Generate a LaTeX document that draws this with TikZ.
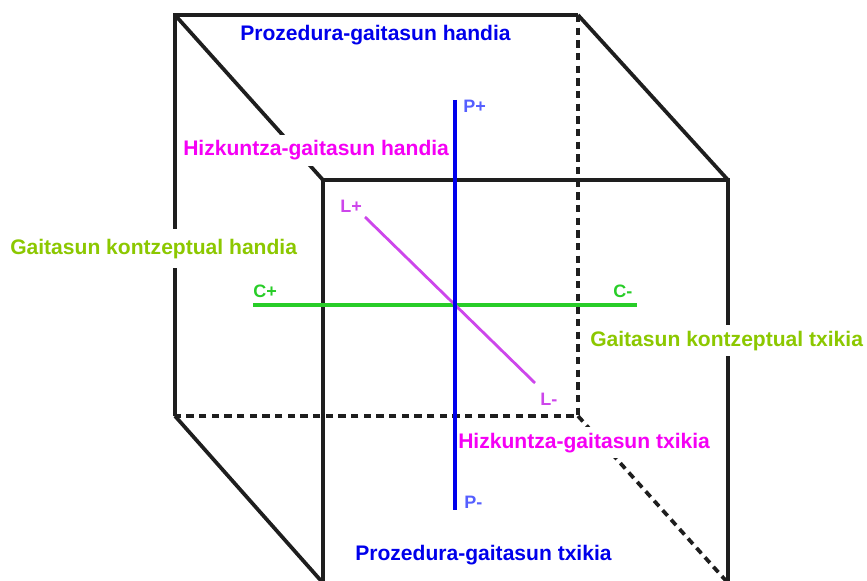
\documentclass[tikz,border=0pt]{standalone}
\usepackage{fontspec}
\setmainfont{Liberation Sans}
\usepackage{xcolor}

\definecolor{procblue}{RGB}{0,0,235}
\definecolor{langmag}{RGB}{245,0,245}
\definecolor{concgreen}{RGB}{140,200,0}
\definecolor{axisgreen}{RGB}{40,205,40}
\definecolor{tagblue}{RGB}{85,95,255}
\definecolor{tagmag}{RGB}{205,70,235}
\definecolor{edgegray}{RGB}{30,30,30}

\begin{document}
\begin{tikzpicture}[x=0.75pt,y=-0.75pt,
  cubeline/.style={draw=edgegray,line width=2.8pt},
  hidden/.style={cubeline,dash pattern=on 5.5pt off 4pt},
  title/.style={font=\fontsize{15.8}{18}\selectfont\bfseries,fill=white,inner xsep=1.5pt,inner ysep=4pt,anchor=base west},
  tag/.style={font=\fontsize{13.5}{15}\selectfont\bfseries,inner sep=0pt,anchor=base west}]
\useasboundingbox (0,0) rectangle (867,581);
% back face
\coordinate (b1) at (175,15);
\coordinate (b2) at (578,15);
\coordinate (b3) at (578,416);
\coordinate (b4) at (175,416);
% front face
\coordinate (f1) at (323,180);
\coordinate (f2) at (728,180);
\coordinate (f3) at (728,583);
\coordinate (f4) at (323,583);
\draw[cubeline] (b4) -- (b1) -- (b2);
\draw[hidden] (b2) -- (b3) -- (b4);
\draw[cubeline] (b1) -- (f1);
\draw[cubeline] (b2) -- (f2);
\draw[cubeline] (b4) -- (f4);
\draw[hidden] (b3) -- (f3);
\draw[cubeline] (f4) -- (f1) -- (f2) -- (f3) -- cycle;
% labels of the faces
\node[title,text=procblue] (phigh) at (238,41) {Prozedura-gaitasun handia};
\node[title,text=langmag] (lhigh) at (181,156) {Hizkuntza-gaitasun handia};
\node[title,text=concgreen,inner ysep=7pt] (chigh) at (8,254) {Gaitasun kontzeptual handia};
\node[title,text=concgreen] (clow) at (588,346) {Gaitasun kontzeptual txikia};
\node[title,text=langmag] (llow) at (456,448) {Hizkuntza-gaitasun txikia};
\node[title,text=procblue] (plow) at (353,560) {Prozedura-gaitasun txikia};
% axes
\coordinate (ptop) at (455,100);
\coordinate (pbot) at (455,510);
\coordinate (cleft) at (253,305);
\coordinate (cright) at (637,305);
\coordinate (ltop) at (365,217);
\coordinate (lbot) at (535,383);
\draw[axisgreen,line width=2.6pt] (cleft) -- (cright);
\draw[tagmag,line width=2.1pt] (ltop) -- (lbot);
\draw[procblue,line width=3.3pt] (ptop) -- (pbot);
\node[tag,text=tagblue] (pplus) at (463,113) {P+};
\node[tag,text=tagblue] (pminus) at (464,508) {P-};
\node[tag,text=tagmag] (lplus) at (340,213) {L+};
\node[tag,text=tagmag] (lminus) at (540,405) {L-};
\node[tag,text=axisgreen] (cplus) at (253,297) {C+};
\node[tag,text=axisgreen] (cminus) at (613,297) {C-};
\end{tikzpicture}
\end{document}
